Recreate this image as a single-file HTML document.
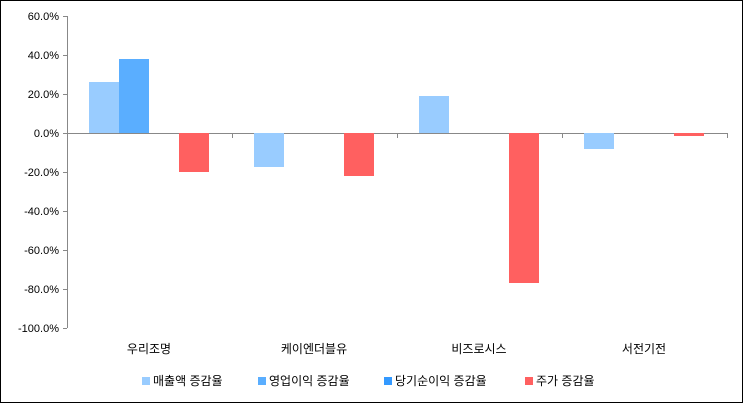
<!DOCTYPE html>
<html><head><meta charset="utf-8"><style>body{margin:0;background:#fff}svg{display:block}text{font-family:"Liberation Sans","Noto Sans CJK KR",sans-serif;font-size:11px;fill:#000}</style></head><body>
<svg width="743" height="403" xmlns="http://www.w3.org/2000/svg">
<rect x="0.5" y="0.5" width="742" height="402" fill="#fff" stroke="#000"/>
<line x1="67.5" y1="16" x2="67.5" y2="328" stroke="#888"/>
<g stroke="#888">
<line x1="63" y1="16.5" x2="67" y2="16.5"/><line x1="63" y1="55.5" x2="67" y2="55.5"/><line x1="63" y1="94.5" x2="67" y2="94.5"/><line x1="63" y1="133.5" x2="67" y2="133.5"/><line x1="63" y1="172.5" x2="67" y2="172.5"/><line x1="63" y1="211.5" x2="67" y2="211.5"/><line x1="63" y1="250.5" x2="67" y2="250.5"/><line x1="63" y1="289.5" x2="67" y2="289.5"/><line x1="63" y1="328.5" x2="67" y2="328.5"/>
<line x1="67" y1="133.5" x2="727" y2="133.5"/>
<line x1="232.5" y1="133" x2="232.5" y2="138"/><line x1="397.5" y1="133" x2="397.5" y2="138"/><line x1="562.5" y1="133" x2="562.5" y2="138"/><line x1="727.5" y1="133" x2="727.5" y2="138"/>
</g>
<g text-anchor="end">
<text x="59" y="20">60.0%</text><text x="59" y="59">40.0%</text><text x="59" y="98">20.0%</text><text x="59" y="137">0.0%</text><text x="59" y="176">-20.0%</text><text x="59" y="215">-40.0%</text><text x="59" y="254">-60.0%</text><text x="59" y="293">-80.0%</text><text x="59" y="332">-100.0%</text>
</g>
<rect x="89" y="82" width="30" height="51" fill="#99ccff"/>
<rect x="119" y="59" width="30" height="74" fill="#5aaeff"/>
<rect x="179" y="133" width="30" height="39" fill="#ff6060"/>
<rect x="254" y="133" width="30" height="34" fill="#99ccff"/>
<rect x="344" y="133" width="30" height="43" fill="#ff6060"/>
<rect x="419" y="96" width="30" height="37" fill="#99ccff"/>
<rect x="509" y="133" width="30" height="150" fill="#ff6060"/>
<rect x="584" y="133" width="30" height="16" fill="#99ccff"/>
<rect x="674" y="133" width="30" height="3" fill="#ff6060"/>
<g text-anchor="middle" font-size="12">
<text x="149" y="353" style="font-size:12px">우리조명</text><text x="314" y="353" style="font-size:12px">케이엔더블유</text><text x="479" y="353" style="font-size:12px">비즈로시스</text><text x="644" y="353" style="font-size:12px">서전기전</text>
</g>
<rect x="142" y="377" width="8" height="8" fill="#99ccff"/><text x="153" y="385" style="font-size:12px">매출액 증감율</text>
<rect x="258" y="377" width="8" height="8" fill="#5aaeff"/><text x="269" y="385" style="font-size:12px">영업이익 증감율</text>
<rect x="384" y="377" width="8" height="8" fill="#3399ff"/><text x="395" y="385" style="font-size:12px">당기순이익 증감율</text>
<rect x="525" y="377" width="8" height="8" fill="#ff6060"/><text x="536" y="385" style="font-size:12px">주가 증감율</text>
</svg>
</body></html>
